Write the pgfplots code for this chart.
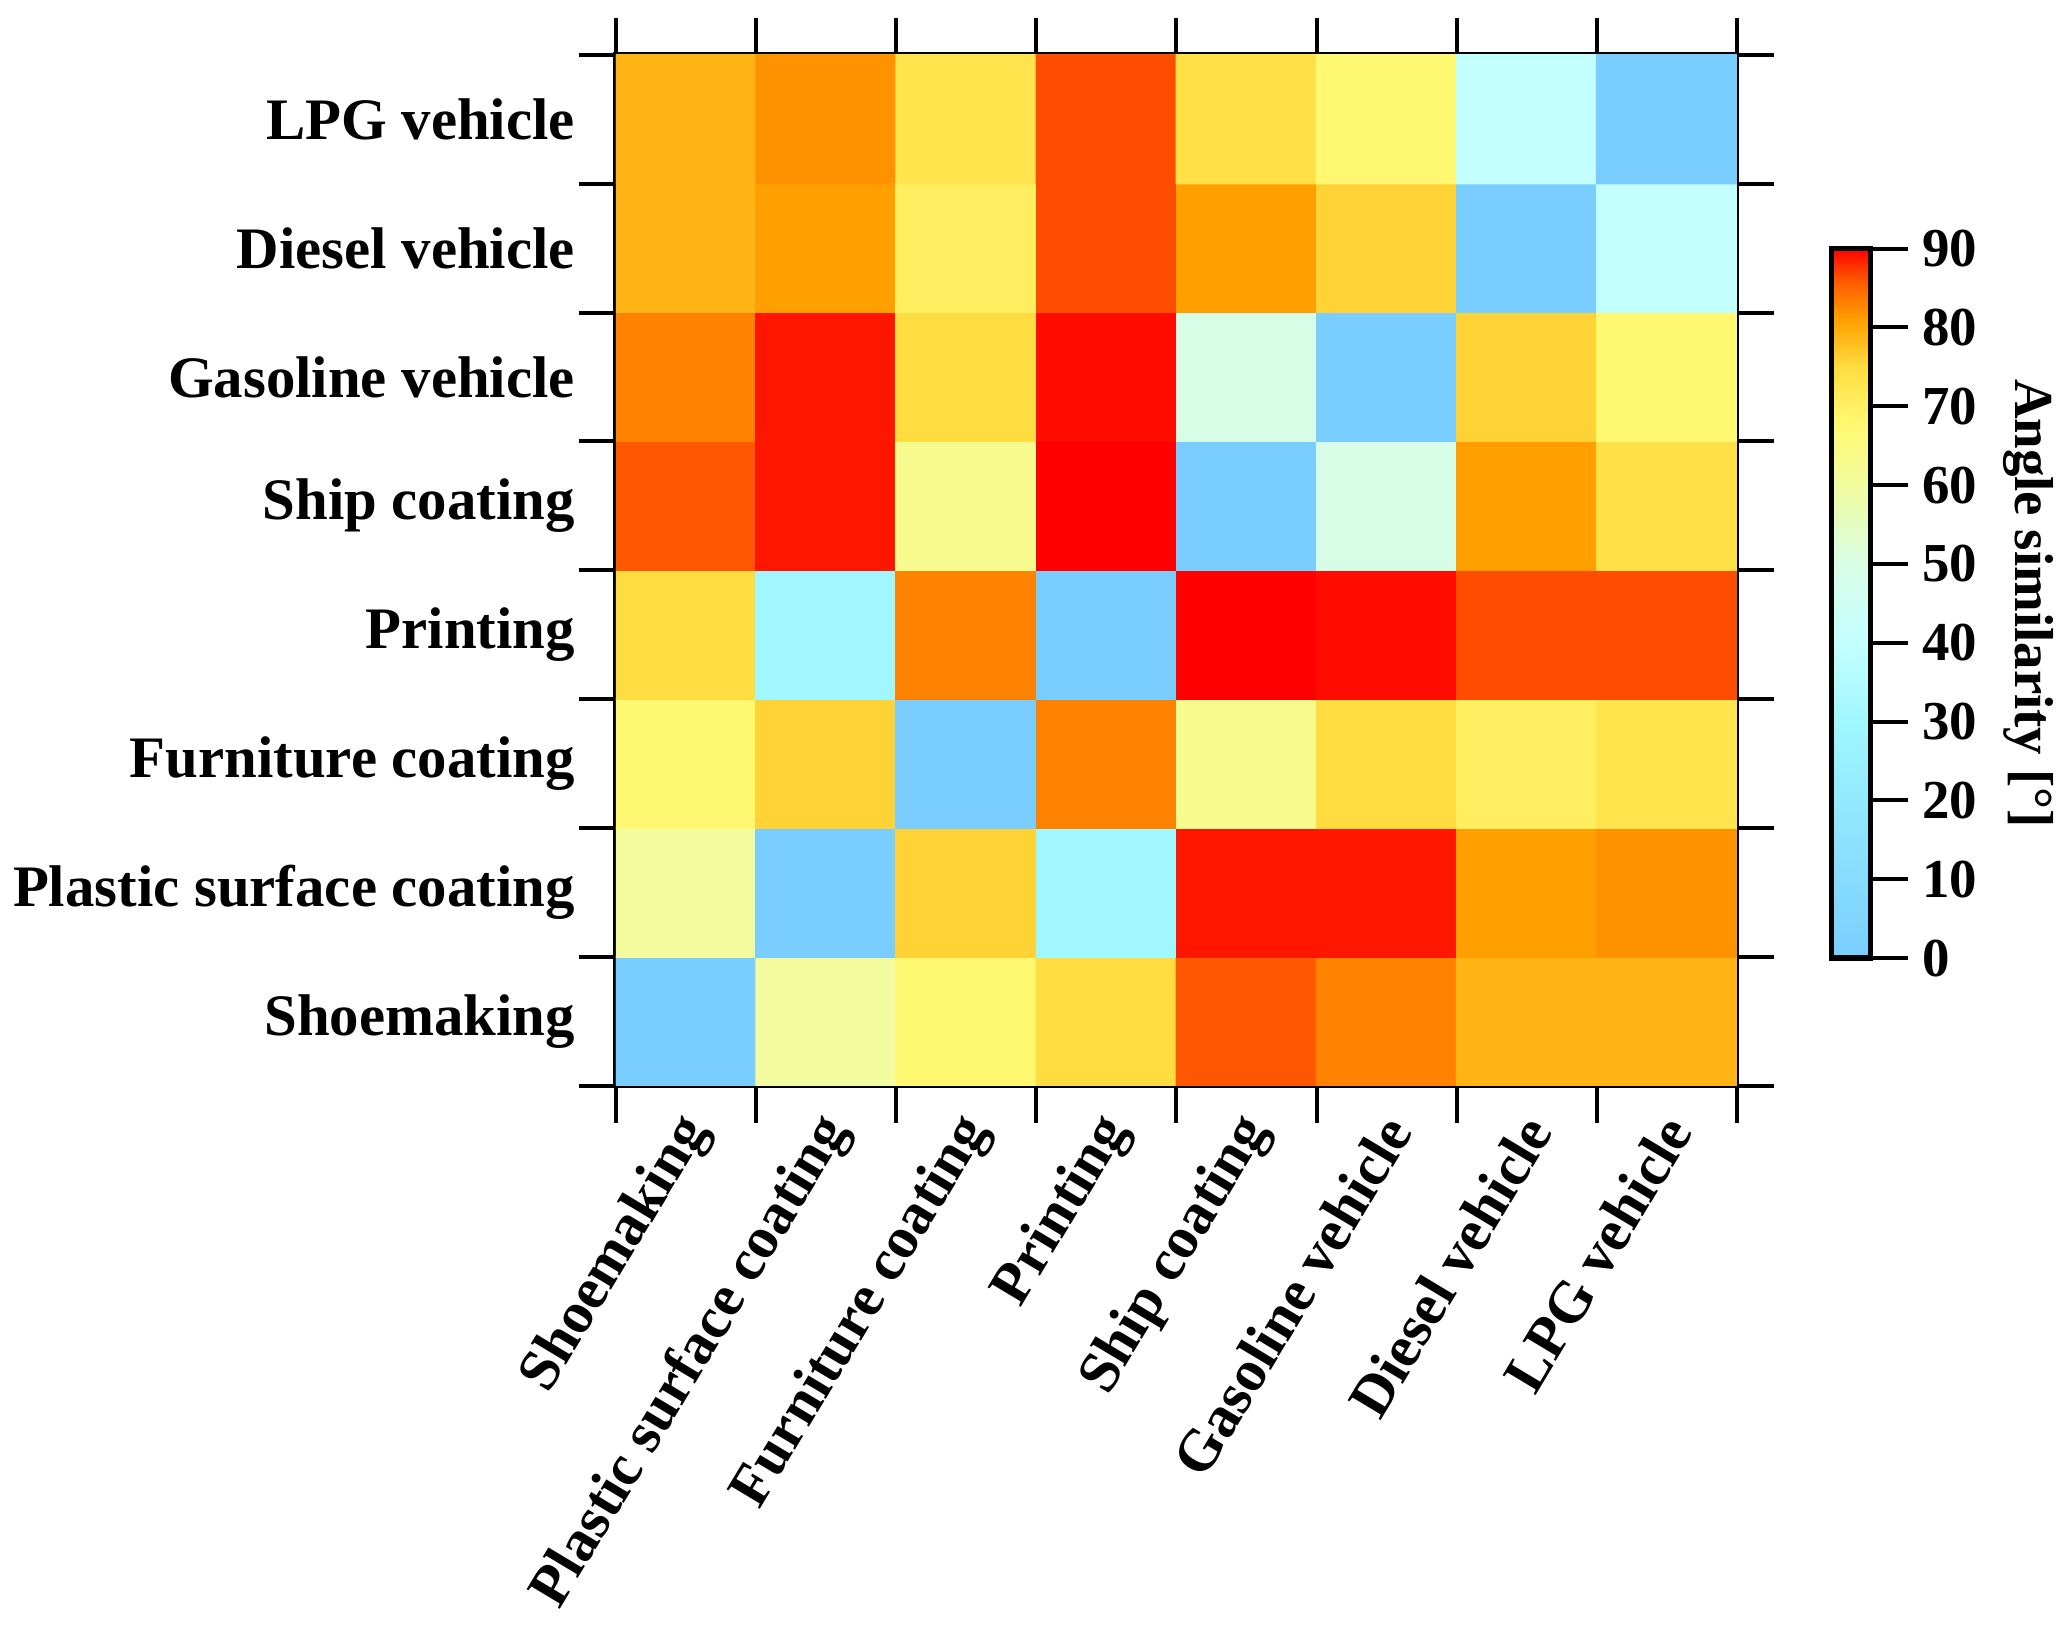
\documentclass[border=0pt]{standalone}
\usepackage{fontspec}
\setmainfont{Liberation Serif}
\usepackage{pgfplots}
\pgfplotsset{compat=1.18}
\begin{document}
\begin{tikzpicture}
\begin{axis}[
  width=286pt, height=263pt, scale only axis,
  xmin=-0.5, xmax=7.5, ymin=-0.5, ymax=7.5,
  axis line style={line width=1.3pt},
  xtick={0,...,7}, ytick={0,...,7},
  major tick length=0pt,
  minor xtick={-0.5,0.5,...,7.5}, minor ytick={-0.5,0.5,...,7.5},
  minor tick length=9.5pt,
  tick align=outside,
  minor tick style={line width=1pt, black},
  ticklabel style={font=\fontsize{15}{18}\selectfont\bfseries},
  xticklabels={Shoemaking, Plastic surface coating, Furniture coating, Printing, Ship coating, Gasoline vehicle, Diesel vehicle, LPG vehicle},
  yticklabels={Shoemaking, Plastic surface coating, Furniture coating, Printing, Ship coating, Gasoline vehicle, Diesel vehicle, LPG vehicle},
  xticklabel style={rotate=59, anchor=east, yshift=-7pt, xshift=-3pt},
  yticklabel style={xshift=-7pt},
  colormap={sim}{rgb255(0)=(122,206,255) rgb255(30)=(160,247,255) rgb255(40)=(196,255,255) rgb255(50)=(216,253,230) rgb255(60)=(242,252,158) rgb255(68)=(255,248,112) rgb255(75)=(255,220,64) rgb255(81)=(255,160,0) rgb255(86)=(255,88,0) rgb255(90)=(255,0,0)},
  point meta min=0, point meta max=90,
  colorbar,
  colorbar style={
    width=10pt, height=181pt, scale only axis,
    at={(1.0846,0.812)}, anchor=north west,
    ytick={0,10,...,90},
    ytick pos=right, yticklabel pos=right,
    major tick length=9.5pt, tick align=outside,
    major tick style={line width=1pt, black},
    axis line style={line width=1.3pt},
    yticklabel style={font=\fontsize{14}{16}\selectfont\bfseries, /pgf/number format/assume math mode=true},
    ylabel={Angle similarity [°]},
    ylabel style={rotate=180, font=\fontsize{14}{16}\selectfont\bfseries},
  },
]
\addplot[matrix plot*, mesh/cols=8, point meta=explicit] table[meta=c] {
x y c
0 0 0
1 0 60
2 0 68
3 0 75
4 0 86
5 0 83
6 0 79
7 0 79
0 1 60
1 1 0
2 1 76
3 1 30
4 1 89
5 1 89
6 1 81
7 1 82
0 2 68
1 2 76
2 2 0
3 2 83
4 2 63
5 2 75
6 2 70.5
7 2 73
0 3 75
1 3 30
2 3 83
3 3 0
4 3 90
5 3 89.5
6 3 86.5
7 3 86.5
0 4 86
1 4 89
2 4 63
3 4 90
4 4 0
5 4 50
6 4 81
7 4 74
0 5 83
1 5 89
2 5 75
3 5 89.5
4 5 50
5 5 0
6 5 76
7 5 68
0 6 79
1 6 81
2 6 70.5
3 6 86.5
4 6 81
5 6 76
6 6 0
7 6 40
0 7 79
1 7 82
2 7 73
3 7 86.5
4 7 74
5 7 68
6 7 40
7 7 0
};
\end{axis}
\path ([yshift=4pt]current axis.outer north);
\end{tikzpicture}
\end{document}
